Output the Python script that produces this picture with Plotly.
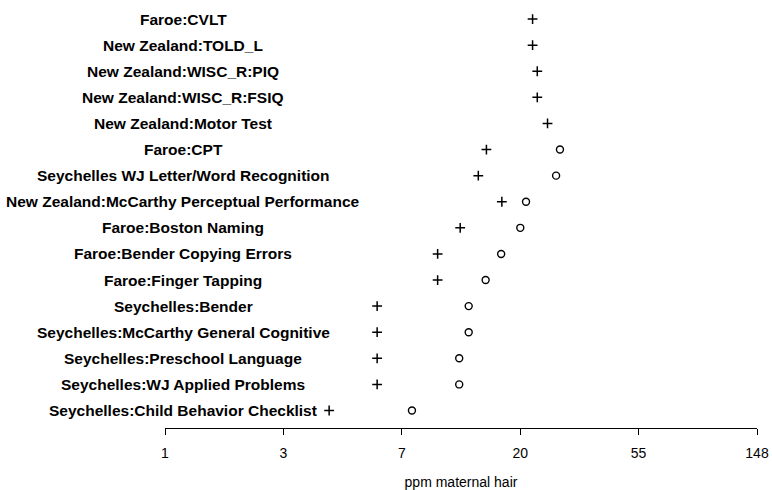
import math
import plotly.graph_objects as go

categories = [
    "Faroe:CVLT",
    "New Zealand:TOLD_L",
    "New Zealand:WISC_R:PIQ",
    "New Zealand:WISC_R:FSIQ",
    "New Zealand:Motor Test",
    "Faroe:CPT",
    "Seychelles WJ Letter/Word Recognition",
    "New Zealand:McCarthy Perceptual Performance",
    "Faroe:Boston Naming",
    "Faroe:Bender Copying Errors",
    "Faroe:Finger Tapping",
    "Seychelles:Bender",
    "Seychelles:McCarthy General Cognitive",
    "Seychelles:Preschool Language",
    "Seychelles:WJ Applied Problems",
    "Seychelles:Child Behavior Checklist",
]

plus_values = [22.3, 22.3, 23.2, 23.2, 25.3, 15.1, 14.1, 17.2, 12.1, 10.0, 10.0, 6.0, 6.0, 6.0, 6.0, 4.0]
circle_values = [150, 150, 150, 150, 150, 28.1, 27.2, 21.1, 20.1, 17.1, 15.0, 13.0, 13.0, 12.0, 12.0, 8.05]

tick_values = [math.exp(k) for k in range(6)]
tick_labels = ["1", "3", "7", "20", "55", "148"]
x_title = "ppm maternal hair"

W, H = 772, 490
L, R, T, B = 165, 15, 6, 62

fig = go.Figure()
fig.add_trace(go.Scatter(
    x=plus_values, y=categories, mode="markers",
    marker=dict(symbol="cross-thin", size=7, color="black",
                line=dict(color="black", width=1.5)),
    cliponaxis=False, showlegend=False, hoverinfo="x+y"))
fig.add_trace(go.Scatter(
    x=circle_values, y=categories, mode="markers",
    marker=dict(symbol="circle-open", size=7, color="black",
                line=dict(color="black", width=1.4)),
    cliponaxis=False, showlegend=False, hoverinfo="x+y"))

label_center_px = 183
for c in categories:
    fig.add_annotation(
        x=(label_center_px - L) / (W - L - R), xref="paper",
        y=c, yref="y", text="<b>%s</b>" % c, showarrow=False,
        xanchor="center", yanchor="middle",
        font=dict(family="Liberation Sans, Arial, sans-serif", size=15.5, color="black"))

fig.update_layout(
    width=W, height=H,
    margin=dict(l=L, r=R, t=T, b=B, pad=0, autoexpand=False),
    paper_bgcolor="white", plot_bgcolor="white",
    font=dict(family="Liberation Sans, Arial, sans-serif", color="black"),
    xaxis=dict(
        type="log", range=[0, math.log10(math.exp(5))],
        tickmode="array", tickvals=tick_values, ticktext=tick_labels,
        ticks="outside", ticklen=6, tickwidth=1, tickcolor="black",
        showline=True, linecolor="black", linewidth=1,
        showgrid=False, zeroline=False, automargin=False,
        tickfont=dict(size=14, color="black"),
        ticklabelstandoff=6,
        title=dict(text=x_title, font=dict(size=14, color="black"), standoff=20),
    ),
    yaxis=dict(
        type="category", categoryorder="array", categoryarray=categories,
        range=[15.67, -0.5], automargin=False,
        showticklabels=False, showline=False, showgrid=False,
        zeroline=False, ticks="",
    ),
)

fig.write_html("out.html")
